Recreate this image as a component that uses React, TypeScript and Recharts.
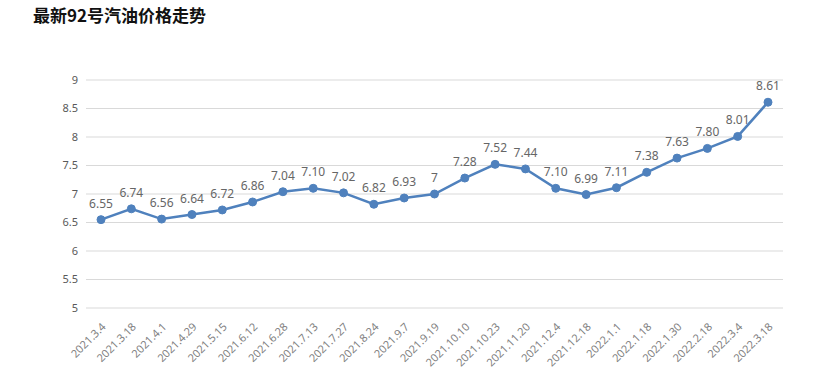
import { LineChart, Line, XAxis, YAxis, CartesianGrid, LabelList } from "recharts";

const dates = [
  "2021.3.4", "2021.3.18", "2021.4.1", "2021.4.29", "2021.5.15", "2021.6.12",
  "2021.6.28", "2021.7.13", "2021.7.27", "2021.8.24", "2021.9.7", "2021.9.19",
  "2021.10.10", "2021.10.23", "2021.11.20", "2021.12.4", "2021.12.18", "2022.1.1",
  "2022.1.18", "2022.1.30", "2022.2.18", "2022.3.4", "2022.3.18",
];

const prices = [
  6.55, 6.74, 6.56, 6.64, 6.72, 6.86, 7.04, 7.1, 7.02, 6.82, 6.93, 7,
  7.28, 7.52, 7.44, 7.1, 6.99, 7.11, 7.38, 7.63, 7.8, 8.01, 8.61,
];

// labels as printed on the chart (keeps "7.10", "7", "7.80")
const priceLabels = [
  "6.55", "6.74", "6.56", "6.64", "6.72", "6.86", "7.04", "7.10", "7.02", "6.82", "6.93", "7",
  "7.28", "7.52", "7.44", "7.10", "6.99", "7.11", "7.38", "7.63", "7.80", "8.01", "8.61",
];

const yTicks = [5, 5.5, 6, 6.5, 7, 7.5, 8, 8.5, 9];

const data = dates.map((d, i) => ({ date: d, price: prices[i], label: priceLabels[i] }));

const FONT = "'Noto Sans', 'Noto Sans CJK SC', sans-serif";

export default function App() {
  return (
    <div style={{ position: "relative", width: 830, height: 371, background: "#fff", fontFamily: FONT }}>
      <style>{`body{margin:0}`}</style>
      <div
        style={{
          position: "absolute",
          left: 33,
          top: 2,
          fontSize: 17,
          fontWeight: 700,
          color: "#111",
          fontFamily: "'Noto Sans CJK SC', sans-serif",
        }}
      >
        最新92号汽油价格走势
      </div>
      <LineChart width={830} height={371} data={data} margin={{ top: 80, right: 47, bottom: 0, left: 0 }}>
        <CartesianGrid vertical={false} stroke="#d9d9d9" />
        <XAxis
          dataKey="date"
          interval={0}
          axisLine={false}
          tickLine={false}
          height={63}
          padding={{ left: 15, right: 15 }}
          tick={{ fontSize: 11, fill: "#7f7f7f", fontFamily: FONT }}
          angle={-45}
          textAnchor="end"
          tickMargin={8}
        />
        <YAxis
          domain={[5, 9]}
          ticks={yTicks}
          axisLine={false}
          tickLine={false}
          width={86}
          tick={{ fontSize: 11, fill: "#595959", fontFamily: FONT }}
        />
        <Line
          type="linear"
          dataKey="price"
          stroke="#4f81bd"
          strokeWidth={2.5}
          dot={{ r: 4, fill: "#4f81bd", stroke: "#4f81bd", strokeWidth: 1 }}
          isAnimationActive={false}
        >
          <LabelList dataKey="label" position="top" offset={12} style={{ fontSize: 12, fill: "#666", fontFamily: FONT }} />
        </Line>
      </LineChart>
    </div>
  );
}
